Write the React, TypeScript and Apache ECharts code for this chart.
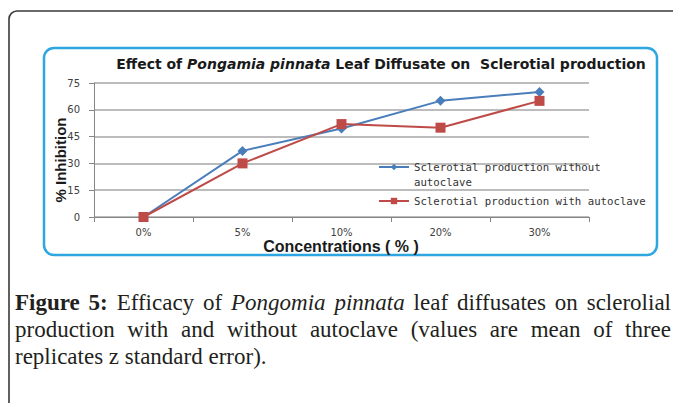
import { useEffect, useRef } from "react";
import * as echarts from "echarts";

// ---- data ----
const categories = ["0%", "5%", "10%", "20%", "30%"];
const withoutAutoclave = [0, 37, 49.5, 65, 70];
const withAutoclave = [0, 30, 52, 50, 65];
const seriesNames = [
  "Sclerotial production without autoclave",
  "Sclerotial production with autoclave",
];
const legendLabels = ["Sclerotial production without\nautoclave", "Sclerotial production with autoclave"];
const yMin = 0;
const yMax = 75;
const yInterval = 15;
const titleParts = ["Effect of ", "Pongamia pinnata", " Leaf Diffusate on  Sclerotial production"];
const xAxisName = "Concentrations ( % )";
const yAxisName = "% Inhibition";
// caption: **bold**, _italic_
const captionLines = [
  "**Figure** **5:** Efficacy of _Pongomia_ _pinnata_ leaf diffusates on sclerolial",
  "production with and without autoclave (values are mean of three",
  "replicates z standard error).",
];

const CAP_FONT = '"Liberation Serif", "Times New Roman", serif';
const CAP_SIZE = 23;

function buildCaption(): any[] {
  const canvas = document.createElement("canvas");
  const ctx = canvas.getContext("2d") as CanvasRenderingContext2D;
  const left = 15;
  const right = 671;
  const ys = [302, 329, 356];
  const els: any[] = [];
  captionLines.forEach((line, li) => {
    const words = line.split(" ").map((w) => {
      if (w.startsWith("**")) return { text: w.replace(/\*\*/g, ""), weight: "bold", style: "normal" };
      if (w.startsWith("_")) return { text: w.replace(/_/g, ""), weight: "normal", style: "italic" };
      return { text: w, weight: "normal", style: "normal" };
    });
    const widths = words.map((w) => {
      ctx.font = `${w.style} ${w.weight} ${CAP_SIZE}px ${CAP_FONT}`;
      return ctx.measureText(w.text).width;
    });
    ctx.font = `normal normal ${CAP_SIZE}px ${CAP_FONT}`;
    const space = ctx.measureText(" ").width;
    const total = widths.reduce((a, b) => a + b, 0);
    const justify = li < captionLines.length - 1;
    const gap = justify ? (right - left - total) / (words.length - 1) : space;
    let x = left;
    words.forEach((w, i) => {
      els.push({
        type: "text",
        x,
        y: ys[li],
        silent: true,
        style: {
          text: w.text,
          fill: "#231f20",
          fontSize: CAP_SIZE,
          fontFamily: CAP_FONT,
          fontWeight: w.weight,
          fontStyle: w.style,
          textAlign: "left",
          align: "left",
          textVerticalAlign: "middle",
          verticalAlign: "middle",
        },
      });
      x += widths[i] + gap;
    });
  });
  return els;
}

export default function App() {
  const ref = useRef<HTMLDivElement>(null);
  useEffect(() => {
    document.body.style.margin = "0";
    if (!ref.current) return;
    const chart = echarts.init(ref.current, undefined, { renderer: "svg" });
    const legendText = {
      fontFamily: '"DejaVu Sans Mono", monospace',
      fontSize: 10.7,
      color: "#333",
      lineHeight: 15,
    };
    const titleFont = '"DejaVu Sans", Verdana, sans-serif';
    const option: any = {
      animation: false,
      backgroundColor: "#ffffff",
      grid: { left: 94, right: 84, top: 83, bottom: 186, containLabel: false },
      legend: [
        {
          data: [seriesNames[0]],
          left: 378,
          top: 167 - 22.5,
          padding: 0,
          orient: "vertical",
          itemWidth: 30,
          itemHeight: 8,
          selectedMode: false,
          formatter: () => "\n" + legendLabels[0],
          textStyle: legendText,
        },
        {
          data: [seriesNames[1]],
          left: 378,
          top: 201 - 7.5,
          padding: 0,
          orient: "vertical",
          itemWidth: 30,
          itemHeight: 8,
          selectedMode: false,
          formatter: () => legendLabels[1],
          textStyle: legendText,
        },
      ],
      xAxis: {
        type: "category",
        data: categories,
        boundaryGap: true,
        axisLine: { lineStyle: { color: "#868686", width: 1 } },
        axisTick: { show: true, length: 5, lineStyle: { color: "#868686" } },
        axisLabel: {
          fontFamily: '"DejaVu Sans", sans-serif',
          fontSize: 10,
          color: "#404040",
          margin: 10,
        },
        splitLine: { show: false },
      },
      yAxis: {
        type: "value",
        min: yMin,
        max: yMax,
        interval: yInterval,
        axisLine: { show: true, lineStyle: { color: "#868686", width: 1 } },
        axisTick: { show: true, length: 5, lineStyle: { color: "#868686" } },
        axisLabel: {
          fontFamily: '"DejaVu Sans", sans-serif',
          fontSize: 10,
          color: "#404040",
          margin: 14,
        },
        splitLine: { lineStyle: { color: "#A6A6A6", width: 1.5 } },
      },
      series: [
        {
          type: "line",
          name: seriesNames[0],
          data: withoutAutoclave,
          symbol: "diamond",
          symbolSize: 10,
          itemStyle: { color: "#4A7EBB" },
          lineStyle: { color: "#4A7EBB", width: 2 },
        },
        {
          type: "line",
          name: seriesNames[1],
          data: withAutoclave,
          symbol: "rect",
          symbolSize: 10,
          itemStyle: { color: "#BE4B48" },
          lineStyle: { color: "#BE4B48", width: 2 },
        },
      ],
      graphic: [
        {
          type: "rect",
          silent: true,
          shape: { x: 9, y: 11, width: 700, height: 440, r: [8, 0, 0, 0] },
          style: { fill: "none", stroke: "#3a3a3a", lineWidth: 1.6 },
        },
        {
          type: "rect",
          silent: true,
          shape: { x: 44, y: 48, width: 613, height: 207, r: 10 },
          style: { fill: "none", stroke: "#2EA7E0", lineWidth: 2.5 },
        },
        {
          type: "text",
          x: 381,
          y: 64,
          silent: true,
          style: {
            text: `{b|${titleParts[0]}}{i|${titleParts[1]}}{b|${titleParts[2]}}`,
            textAlign: "center",
            align: "center",
            textVerticalAlign: "middle",
            verticalAlign: "middle",
            rich: {
              b: {
                fontFamily: titleFont,
                fontWeight: "bold",
                fontSize: 14,
                fill: "#1a1a1a",
                color: "#1a1a1a",
              },
              i: {
                fontFamily: titleFont,
                fontWeight: "bold",
                fontStyle: "italic",
                fontSize: 14,
                fill: "#1a1a1a",
                color: "#1a1a1a",
              },
            },
          },
        },
        {
          type: "text",
          x: 341,
          y: 246,
          silent: true,
          style: {
            text: xAxisName,
            fontFamily: '"Liberation Sans", Arial, sans-serif',
            fontWeight: "bold",
            fontSize: 16,
            fill: "#1a1a1a",
            textAlign: "center",
            align: "center",
            textVerticalAlign: "middle",
            verticalAlign: "middle",
          },
        },
        {
          type: "text",
          x: 60,
          y: 160,
          rotation: Math.PI / 2,
          silent: true,
          style: {
            text: yAxisName,
            fontFamily: '"Liberation Sans Narrow", "Liberation Sans", Arial, sans-serif',
            fontWeight: "bold",
            fontSize: 15,
            fill: "#1a1a1a",
            textAlign: "center",
            align: "center",
            textVerticalAlign: "middle",
            verticalAlign: "middle",
          },
        },
        ...buildCaption(),
      ],
    };
    chart.setOption(option);
    return () => chart.dispose();
  }, []);
  return <div ref={ref} style={{ width: 673, height: 403 }} />;
}
